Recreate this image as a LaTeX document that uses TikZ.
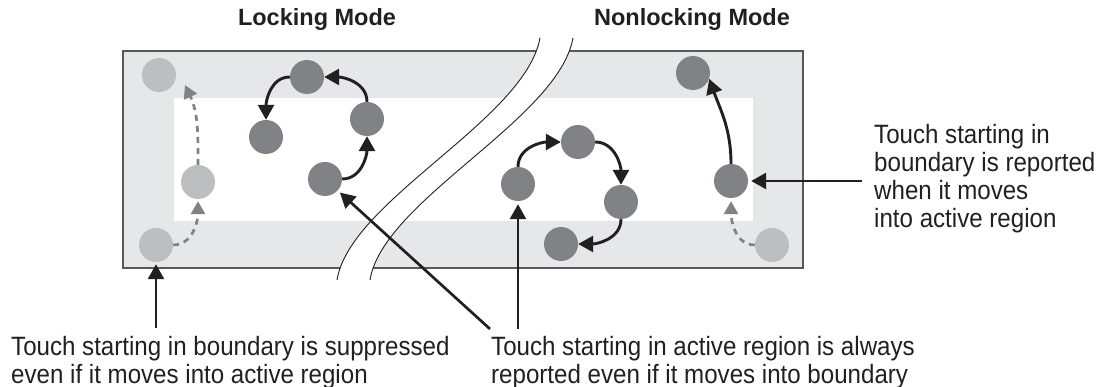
\documentclass[tikz,border=0pt]{standalone}
\usepackage{fontspec}
\setmainfont{Liberation Sans}
\newfontfamily\bodyfont[FakeStretch=0.91]{Liberation Sans}
\usetikzlibrary{arrows.meta}
\definecolor{panel}{HTML}{E6E7E8}
\definecolor{frame}{HTML}{58595B}
\definecolor{touchdark}{HTML}{808285}
\definecolor{touchlight}{HTML}{BCBEC0}
\definecolor{ink}{HTML}{231F20}
\begin{document}
\begin{tikzpicture}[x=1pt,y=1pt,
  touch/.style={circle,minimum size=34pt,inner sep=0pt,fill=#1},
  move/.style={ink,line width=2.9pt,-{Triangle[length=15pt,width=16pt]}},
  ghost/.style={touchdark,line width=2.7pt,dash pattern=on 6pt off 5pt,-{Triangle[length=13pt,width=14pt]}},
  pointer/.style={ink,line width=2.7pt,-{Triangle[length=15pt,width=16pt]}},
  caption/.style={font=\bodyfont\fontsize{26.5}{28}\selectfont,align=left,inner sep=0pt,anchor=north west,text=ink},
  title/.style={font=\bfseries\fontsize{23.5}{26}\selectfont,inner sep=0pt,anchor=base,text=ink}]
\useasboundingbox (0,0) rectangle (1114,387);

% touch panel: boundary band and active region
\fill[panel] (123,119) rectangle (803,336);
\fill[white] (174,166) rectangle (753,289);
\draw[frame,line width=1.6pt] (123,119) rectangle (803,336);

% break between the two modes
\fill[white] (540,349) .. controls (525,267) and (350,187) .. (337,107)
  -- (370,107) .. controls (383,187) and (558,267) .. (573,349) -- cycle;
\draw[ink,line width=0.9pt] (540,349) .. controls (525,267) and (350,187) .. (337,107);
\draw[ink,line width=0.9pt] (573,349) .. controls (558,267) and (383,187) .. (370,107);

% titles
\node[title] (tLock) at (317,361) {Locking Mode};
\node[title] (tFree) at (692,361) {Nonlocking Mode};

% locking mode touches
\node[touch=touchlight] (L1) at (159,312) {};
\node[touch=touchlight] (L2) at (198,205) {};
\node[touch=touchlight] (L3) at (156,142) {};
\node[touch=touchdark] (D1) at (307,310) {};
\node[touch=touchdark] (D2) at (266,250) {};
\node[touch=touchdark] (D3) at (367,268) {};
\node[touch=touchdark] (D4) at (325,208) {};

% nonlocking mode touches
\node[touch=touchdark] (N1) at (518,203) {};
\node[touch=touchdark] (N2) at (578,245) {};
\node[touch=touchdark] (N3) at (621,185) {};
\node[touch=touchdark] (N4) at (561,143) {};
\node[touch=touchdark] (R1) at (693,314) {};
\node[touch=touchdark] (R2) at (731,206) {};
\node[touch=touchlight] (R3) at (772,142) {};

% suppressed movement
\coordinate (Lend) at (185,302);
\draw[ghost,shorten >=2pt] (L3.east) to[out=0,in=-90] (L2.south);
\draw[ghost] (L2.north) to[out=90,in=-65] (Lend);
\draw[ghost,shorten >=3pt] (R3.west) to[out=180,in=-90] (R2.south);

% reported movement
\draw[move] (D4.east) to[out=0,in=-90] (D3.south);
\draw[move] (D3.north) to[out=90,in=0] (D1.east);
\draw[move] (D1.west) to[out=180,in=90] (D2.north);
\draw[move] (N1.north) to[out=90,in=180] (N2.west);
\draw[move] (N2.east) to[out=0,in=90] (N3.north);
\draw[move] (N3.south) to[out=-90,in=0] (N4.east);
\draw[move] (R2.north) to[out=90,in=-70] (R1.-20);

% captions
\node[caption] (cLock) at (11,51.3) {Touch starting in boundary is suppressed\\even if it moves into active region};
\node[caption] (cActive) at (491,51.3) {Touch starting in active region is always\\reported even if it moves into boundary};
\node[caption] (cEdge) at (874,263.3) {Touch starting in\\boundary is reported\\when it moves\\into active region};

% caption pointers
\coordinate (pA) at (156,59);
\coordinate (pB) at (490,58);
\coordinate (pC) at (518,58);
\coordinate (pD) at (862,206);
\draw[pointer,shorten >=2pt] (pA) -- (L3.south);
\draw[pointer,shorten >=3pt] (pB) -- (D4);
\draw[pointer,shorten >=3pt] (pC) -- (N1.south);
\draw[pointer,shorten >=3pt] (pD) -- (R2.east);
\end{tikzpicture}
\end{document}
